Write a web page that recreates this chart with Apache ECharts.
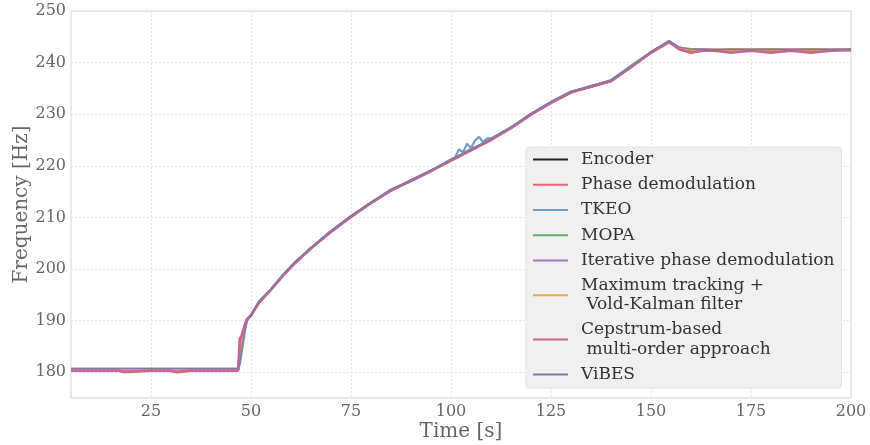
<!DOCTYPE html>
<html>
<head>
<meta charset="utf-8">
<script src="https://cdn.jsdelivr.net/npm/echarts@6/dist/echarts.min.js"></script>
<style>html,body{margin:0;padding:0;background:#fff}#c{width:870px;height:445px}</style>
</head>
<body>
<div id="c"></div>
<script>
// time [s]
const time = [5,10,15,17,18,19.5,20, 25,29.5,30,31.5,32,35,40, 46.8,47.2,47.6,48,48.5,49,50,
  52,55,58,61,65,70,75, 80,85,90,95,100,101,102, 103,104,105,106,107,108,109,
  110,115,120,125,130,135,140, 145,150,154.5,157,160,163,166, 170,175,180,185,190,195,200];

const encoder = [180.6,180.6,180.6,180.6,180.6,180.6,180.6, 180.6,180.6,180.6,180.6,180.6,180.6,180.6,
  180.6,183.5,186,187.5,189,190.2,191, 193.6,196,198.8,201.2,204,207.3,210.2,
  212.8,215.3,217.1,219,221.1,221.5,221.9, 222.3,222.7,223.1,223.5,223.9,224.3,224.7,
  225.1,227.4,230,232.3,234.3,235.4,236.5, 239.2,242,244.1,242.8,242.4,242.5,242.4,
  242.4,242.5,242.4,242.5,242.4,242.5,242.5];

const phaseDemod = [180.5,180.5,180.5,180.5,180.5,180.5,180.5, 180.5,180.5,180.5,180.5,180.5,180.5,180.5,
  180.5,184.5,186.5,187.8,189.2,190.2,191.1, 193.5,196.1,198.7,201.3,204.1,207.2,210.3,
  212.9,215.2,217.2,219.1,221,221.4,221.8, 222.3,222.8,223.2,223.6,223.9,224.2,224.7,
  225.2,227.3,230.1,232.2,234.2,235.5,236.4, 239.1,242.1,244,242.9,242.3,242.6,242.2,
  242.5,242.4,242.3,242.6,242.3,242.5,242.4];

const tkeo = [180.7,180.7,180.7,180.7,180.7,180.7,180.7, 180.7,180.7,180.7,180.7,180.7,180.7,180.7,
  180.7,181.5,183.5,185.5,188,190,191, 193.7,196,198.9,201.1,204,207.4,210.1,
  212.8,215.4,217,219,221.3,221.6,223.2, 222.6,224.3,223.4,224.9,225.6,224.6,225.3,
  225.3,227.5,230,232.4,234.4,235.3,236.6, 239.4,242,244.2,242.9,242.6,242.6,242.5,
  242.5,242.6,242.5,242.6,242.5,242.6,242.5];

const mopa = [180.6,180.6,180.6,180.6,180.6,180.6,180.6, 180.6,180.6,180.6,180.6,180.6,180.6,180.6,
  180.6,184,186.2,187.6,189.1,190.2,191, 193.6,196,198.8,201.2,204,207.3,210.2,
  212.8,215.3,217.1,219,221.1,221.5,221.9, 222.3,222.7,223.1,223.5,223.9,224.3,224.7,
  225.1,227.4,230,232.3,234.3,235.4,236.5, 239.2,242,244.1,242.7,242.5,242.4,242.5,
  242.3,242.5,242.5,242.4,242.5,242.4,242.5];

const iterPhase = [180.6,180.6,180.6,180.6,180.6,180.6,180.6, 180.6,180.6,180.6,180.6,180.6,180.6,180.6,
  180.6,184.2,186.4,187.7,189.1,190.2,191, 193.5,196.1,198.8,201.2,204.1,207.3,210.2,
  212.8,215.3,217.2,219.1,221.1,221.5,221.9, 222.4,222.8,223.2,223.5,223.9,224.3,224.7,
  225.1,227.4,230,232.3,234.3,235.4,236.5, 239.2,242,244,242.8,242.4,242.5,242.4,
  242.5,242.4,242.5,242.4,242.5,242.4,242.5];

const maxTrackVK = [180.6,180.6,180.6,180.6,180.6,180.6,180.6, 180.6,180.6,180.6,180.6,180.6,180.6,180.6,
  180.6,182.5,185,187,188.8,190,191, 193.6,196,198.8,201.2,204,207.3,210.2,
  212.8,215.3,217.1,219,221.1,221.5,221.9, 222.3,222.7,223.1,223.5,223.9,224.3,224.7,
  225.1,227.4,230,232.3,234.3,235.4,236.5, 239.2,242,243.9,242.9,242.5,242.5,242.5,
  242.5,242.5,242.5,242.5,242.5,242.5,242.5];

const cepstrum = [180.3,180.3,180.3,180.3,180.05,180.05,180.3, 180.3,180.3,180.0,180.0,180.3,180.3,180.3,
  180.3,186.5,187,188,189.3,190.3,191, 193.5,196,198.7,201.2,204,207.2,210.1,
  212.8,215.2,217.1,219,221,221.4,221.8, 222.2,222.6,223,223.4,223.8,224.2,224.6,
  225,227.3,229.9,232.2,234.2,235.3,236.4, 239.1,241.9,244,242.6,241.9,242.3,242.3,
  241.9,242.3,241.9,242.3,241.9,242.3,242.4];

const vibes = [180.7,180.7,180.7,180.7,180.7,180.7,180.7, 180.7,180.7,180.7,180.7,180.7,180.7,180.7,
  180.7,181.8,184,186,188.2,190,191, 193.7,196.1,198.9,201.3,204.1,207.4,210.3,
  212.9,215.4,217.2,219.1,221.2,221.6,222, 222.4,222.8,223.2,223.6,224,224.4,224.8,
  225.2,227.5,230.1,232.4,234.4,235.5,236.6, 239.3,242.1,244.2,243,242.6,242.6,242.5,
  242.6,242.5,242.6,242.5,242.6,242.5,242.6];

const seriesNames = ['Encoder','Phase demodulation','TKEO','MOPA','Iterative phase demodulation',
  'Maximum tracking +\n Vold-Kalman filter','Cepstrum-based\n multi-order approach','ViBES'];
const seriesValues = [encoder, phaseDemod, tkeo, mopa, iterPhase, maxTrackVK, cepstrum, vibes];
const seriesColors = ['#222222','#e8636b','#6d9ecb','#66b266','#a27bb0','#f5a742','#d0609a','#7b7ba6'];
const seriesWidths = [2.2, 2.2, 2.2, 2.2, 2.2, 2.2, 2.6, 1.4];

const xTicks = [25,50,75,100,125,150,175,200];
const yTicks = [180,190,200,210,220,230,240,250];

const FONT = 'DejaVu Serif';
const chart = echarts.init(document.getElementById('c'), null, {renderer:'canvas'});
chart.setOption({
  animation: false,
  backgroundColor: '#ffffff',
  grid: {left: 71, right: 19, top: 11, bottom: 47, show: true, borderColor: '#d6d6d6', borderWidth: 1,
         backgroundColor: 'transparent', containLabel: false, outerBoundsMode: 'none'},
  xAxis: {
    type: 'value', min: 5, max: 200,
    name: 'Time [s]', nameLocation: 'middle', nameGap: 24, nameMoveOverlap: false,
    nameTextStyle: {fontFamily: FONT, fontSize: 20, color: '#666'},
    axisLine: {show: false}, axisTick: {show: false, customValues: xTicks},
    axisLabel: {customValues: xTicks, fontFamily: FONT, fontSize: 16, color: '#666', margin: 6},
    splitLine: {show: true, lineStyle: {color: '#e4e4e4', type: [2, 2], width: 1}}
  },
  yAxis: {
    type: 'value', min: 175, max: 250,
    name: 'Frequency [Hz]', nameLocation: 'middle', nameGap: 39, nameMoveOverlap: false,
    nameTextStyle: {fontFamily: FONT, fontSize: 20, color: '#666'},
    axisLine: {show: false}, axisTick: {show: false, customValues: yTicks},
    axisLabel: {customValues: yTicks, fontFamily: FONT, fontSize: 16, color: '#666', margin: 5},
    splitLine: {show: true, lineStyle: {color: '#e4e4e4', type: [2, 2], width: 1}}
  },
  legend: {
    orient: 'vertical', left: 526, top: 147,
    padding: [3, 7, 4, 7], itemGap: 6, itemWidth: 35, itemHeight: 2, icon: 'rect',
    backgroundColor: '#f0f0f0', borderColor: '#e2e2e2', borderWidth: 1, borderRadius: 4,
    textStyle: {fontFamily: FONT, fontSize: 17, color: '#333', lineHeight: 19.2, padding: [0, 0, 0, 8]},
    data: seriesNames
  },
  series: seriesNames.map((n, i) => ({
    name: n, type: 'line', symbol: 'none', showSymbol: false,
    data: time.map((t, k) => [t, seriesValues[i][k]]),
    lineStyle: {color: seriesColors[i], width: seriesWidths[i]},
    itemStyle: {color: seriesColors[i]}
  }))
});
</script>
</body>
</html>
